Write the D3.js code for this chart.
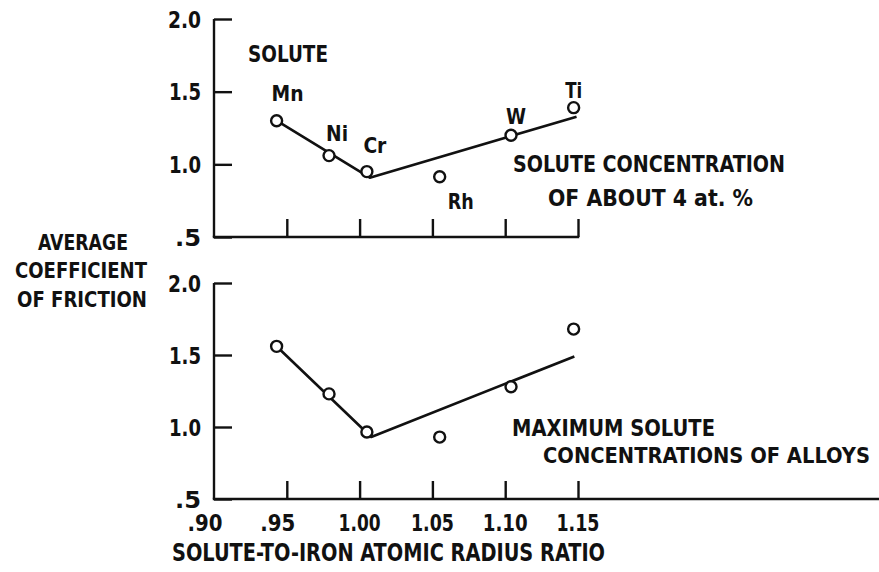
<!DOCTYPE html>
<html>
<head>
<meta charset="utf-8">
<script src="https://cdn.jsdelivr.net/npm/d3@7/dist/d3.min.js"></script>
<style>
  html, body { margin: 0; padding: 0; background: #fff; }
  svg { display: block; }
  text { font-family: "Liberation Sans Narrow", "DejaVu Sans Condensed", "Arial Narrow", sans-serif; font-weight: bold; fill: #111; }
</style>
</head>
<body>
<svg id="chart" width="879" height="572"></svg>
<script>
// ---------- data ----------
const solutes        = ["Mn", "Ni", "Cr", "Rh", "W", "Ti"];
const radiusRatio    = [0.943, 0.979, 1.005, 1.055, 1.104, 1.147];
const frictionAbout4 = [1.30, 1.06, 0.95, 0.915, 1.20, 1.39];
const frictionMax    = [1.56, 1.23, 0.965, 0.93, 1.28, 1.68];

const fitAbout4X = [0.943, 1.007, 1.149];
const fitAbout4Y = [1.30, 0.908, 1.328];
const fitMaxX    = [0.944, 1.008, 1.1475];
const fitMaxY    = [1.55, 0.931, 1.49];

const xTicks      = [0.90, 0.95, 1.00, 1.05, 1.10, 1.15];
const xTickLabels = [".90", ".95", "1.00", "1.05", "1.10", "1.15"];
const yTicks      = [0.5, 1.0, 1.5, 2.0];
const yTickLabels = [".5", "1.0", "1.5", "2.0"];

// ---------- layout ----------
const W = 879, H = 572;
const svg = d3.select("#chart");
const ink = "#111";

const x = d3.scaleLinear().domain([0.90, 1.15]).range([214, 578]);
const yTop = d3.scaleLinear().domain([0.5, 2.0]).range([237, 19]);
const yBot = d3.scaleLinear().domain([0.5, 2.0]).range([499, 283]);

function txt(g, s, px, py, opts = {}) {
  const t = g.append("text")
    .attr("x", px).attr("y", py)
    .attr("text-anchor", opts.anchor || "start")
    .style("font-size", (opts.size || 23) + "px")
    .text(s);
  if (opts.width) t.attr("textLength", opts.width).attr("lengthAdjust", "spacingAndGlyphs");
  return t;
}

const yLabelWidth = { ".5": 26, "1.0": 32, "1.5": 32, "2.0": 33 };
const xLabelWidth = { ".90": 35, ".95": 35, "1.00": 42, "1.05": 43, "1.10": 45, "1.15": 43 };

function panel(yScale, values, fitX, fitY, axisEnd) {
  const g = svg.append("g");
  // y axis
  const yAxis = d3.axisLeft(yScale)
    .tickValues(yTicks)
    .tickFormat((d, i) => yTickLabels[i])
    .tickSizeInner(-18).tickSizeOuter(0).tickPadding(13);
  const ya = g.append("g").attr("transform", `translate(${x(0.90)},0)`).call(yAxis);
  ya.select(".domain").remove();
  ya.selectAll(".tick line").attr("stroke", ink).attr("stroke-width", 2.4);
  ya.selectAll(".tick text")
    .style("font-size", "23px")
    .attr("fill", ink)
    .attr("dy", "0.36em")
    .each(function(d, i) {
      d3.select(this).attr("textLength", yLabelWidth[yTickLabels[i]]).attr("lengthAdjust", "spacingAndGlyphs");
    });
  g.append("line")
    .attr("x1", x(0.90)).attr("x2", x(0.90))
    .attr("y1", yScale(2.0)).attr("y2", yScale(0.5))
    .attr("stroke", ink).attr("stroke-width", 2.4);

  // x axis (ticks pointing up)
  const xAxis = d3.axisBottom(x)
    .tickValues(xTicks.slice(1))
    .tickFormat("")
    .tickSizeInner(-18).tickSizeOuter(0);
  const xa = g.append("g").attr("transform", `translate(0,${yScale(0.5)})`).call(xAxis);
  xa.select(".domain").remove();
  xa.selectAll(".tick line").attr("stroke", ink).attr("stroke-width", 2.4);
  g.append("line")
    .attr("x1", x(0.90) - 1.2).attr("x2", axisEnd)
    .attr("y1", yScale(0.5)).attr("y2", yScale(0.5))
    .attr("stroke", ink).attr("stroke-width", 2.4);

  // fit line
  const line = d3.line().x(d => x(d[0])).y(d => yScale(d[1]));
  g.append("path")
    .datum(fitX.map((v, i) => [v, fitY[i]]))
    .attr("d", line)
    .attr("fill", "none").attr("stroke", ink).attr("stroke-width", 2.6)
    .attr("stroke-linejoin", "round");

  // points
  g.selectAll("circle.pt")
    .data(radiusRatio.map((v, i) => [v, values[i]]))
    .join("circle")
    .attr("class", "pt")
    .attr("cx", d => x(d[0])).attr("cy", d => yScale(d[1]))
    .attr("r", 5.5)
    .attr("fill", "#fff").attr("stroke", ink).attr("stroke-width", 2.4);
  return g;
}

const gTop = panel(yTop, frictionAbout4, fitAbout4X, fitAbout4Y, x(1.15) + 1.2);
const gBot = panel(yBot, frictionMax, fitMaxX, fitMaxY, W);

// element labels in the top panel
const labelOffset = {
  Mn: [-5, -20, "start"], Ni: [8, -15, "middle"], Cr: [8, -19, "middle"],
  Rh: [21, 32, "middle"], W: [5, -11, "middle"], Ti: [0, -10, "middle"]
};
const labelWidth = { Mn: 32, Ni: 22, Cr: 23, Rh: 26, W: 20, Ti: 17 };
solutes.forEach((s, i) => {
  const o = labelOffset[s];
  txt(gTop, s, x(radiusRatio[i]) + o[0], yTop(frictionAbout4[i]) + o[1],
      { anchor: o[2], size: 22, width: labelWidth[s] });
});

// annotations
txt(svg, "SOLUTE", 248, 62, { width: 80 });
txt(svg, "SOLUTE CONCENTRATION", 513, 172, { width: 272 });
txt(svg, "OF ABOUT 4 at.  %", 548, 206, { width: 205 });
txt(svg, "MAXIMUM SOLUTE", 512, 436, { width: 203 });
txt(svg, "CONCENTRATIONS OF ALLOYS", 543, 463, { width: 327, size: 21 });

// y-axis title
txt(svg, "AVERAGE", 83, 250, { anchor: "middle", width: 90, size: 22 });
txt(svg, "COEFFICIENT", 81, 278, { anchor: "middle", width: 132, size: 22 });
txt(svg, "OF FRICTION", 82, 307, { anchor: "middle", width: 130, size: 22 });

// x tick labels (bottom)
xTicks.forEach((t, i) => {
  const s = xTickLabels[i];
  const shift = s.startsWith(".") ? -9 : 0;
  txt(svg, s, x(t) + shift, 531, { anchor: "middle", width: xLabelWidth[s], size: 23 });
});

// x-axis title
txt(svg, "SOLUTE-TO-IRON ATOMIC RADIUS RATIO", 172, 561, { width: 433, size: 24 });
</script>
</body>
</html>
